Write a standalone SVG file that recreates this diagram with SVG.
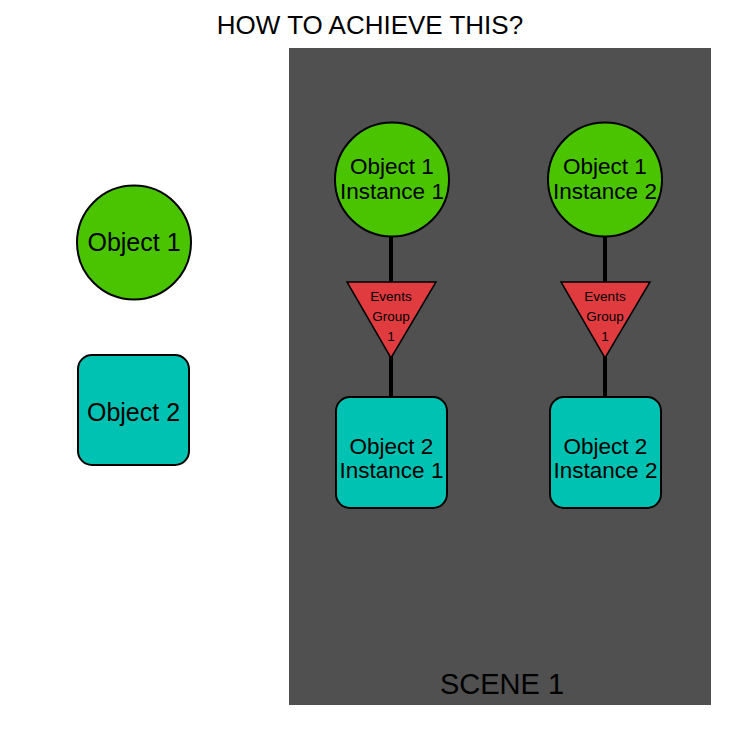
<svg xmlns="http://www.w3.org/2000/svg" width="750" height="750" viewBox="0 0 750 750">
<style>
text{font-family:"Liberation Sans",Arial,sans-serif;fill:#000;text-anchor:middle}
.obj1{fill:#4BC400;stroke:#000;stroke-width:2}
.obj2{fill:#00C2B2;stroke:#000;stroke-width:2}
.ev{fill:#E03C40;stroke:#000;stroke-width:1.5}
.lbl{font-size:22.5px}
.big{font-size:25px}
.ev-t{font-size:13.5px}
.conn{stroke:#000;stroke-width:4;fill:none}
</style>
<rect width="750" height="750" fill="#fff"/>
<text x="370" y="34" style="font-size:26px">HOW TO ACHIEVE THIS?</text>
<g id="scene">
<rect x="289" y="48" width="422" height="657" fill="#505050"/>
<text x="502" y="694" style="font-size:29px">SCENE 1</text>
</g>
<g id="connectors">
<line class="conn" x1="391" y1="236" x2="391" y2="283"/>
<line class="conn" x1="391" y1="356" x2="391" y2="398"/>
<line class="conn" x1="605" y1="236" x2="605" y2="283"/>
<line class="conn" x1="605" y1="356" x2="605" y2="398"/>
</g>
<g id="object1">
<circle class="obj1" cx="134" cy="242.5" r="57"/>
<text class="big" x="134" y="251">Object 1</text>
</g>
<g id="object2">
<rect class="obj2" x="78" y="355" width="111" height="110" rx="14"/>
<text class="big" x="133.5" y="421">Object 2</text>
</g>
<g id="o1i1">
<circle class="obj1" cx="392" cy="179.5" r="57"/>
<text class="lbl" x="392" y="174">Object 1</text>
<text class="lbl" x="392" y="199">Instance 1</text>
</g>
<g id="ev1">
<polygon class="ev" points="347,282 436,282 391,358"/>
<text class="ev-t" x="391" y="301">Events</text>
<text class="ev-t" x="391" y="321">Group</text>
<text class="ev-t" x="391" y="341">1</text>
</g>
<g id="o2i1">
<rect class="obj2" x="336" y="397" width="111" height="111" rx="14"/>
<text class="lbl" x="391.5" y="454">Object 2</text>
<text class="lbl" x="391.5" y="478">Instance 1</text>
</g>
<g id="o1i2">
<circle class="obj1" cx="605" cy="179.5" r="57"/>
<text class="lbl" x="605" y="174">Object 1</text>
<text class="lbl" x="605" y="199">Instance 2</text>
</g>
<g id="ev2">
<polygon class="ev" points="561,282 650,282 605,358"/>
<text class="ev-t" x="605" y="301">Events</text>
<text class="ev-t" x="605" y="321">Group</text>
<text class="ev-t" x="605" y="341">1</text>
</g>
<g id="o2i2">
<rect class="obj2" x="550" y="397" width="111" height="111" rx="14"/>
<text class="lbl" x="605.5" y="454">Object 2</text>
<text class="lbl" x="605.5" y="478">Instance 2</text>
</g>
</svg>
